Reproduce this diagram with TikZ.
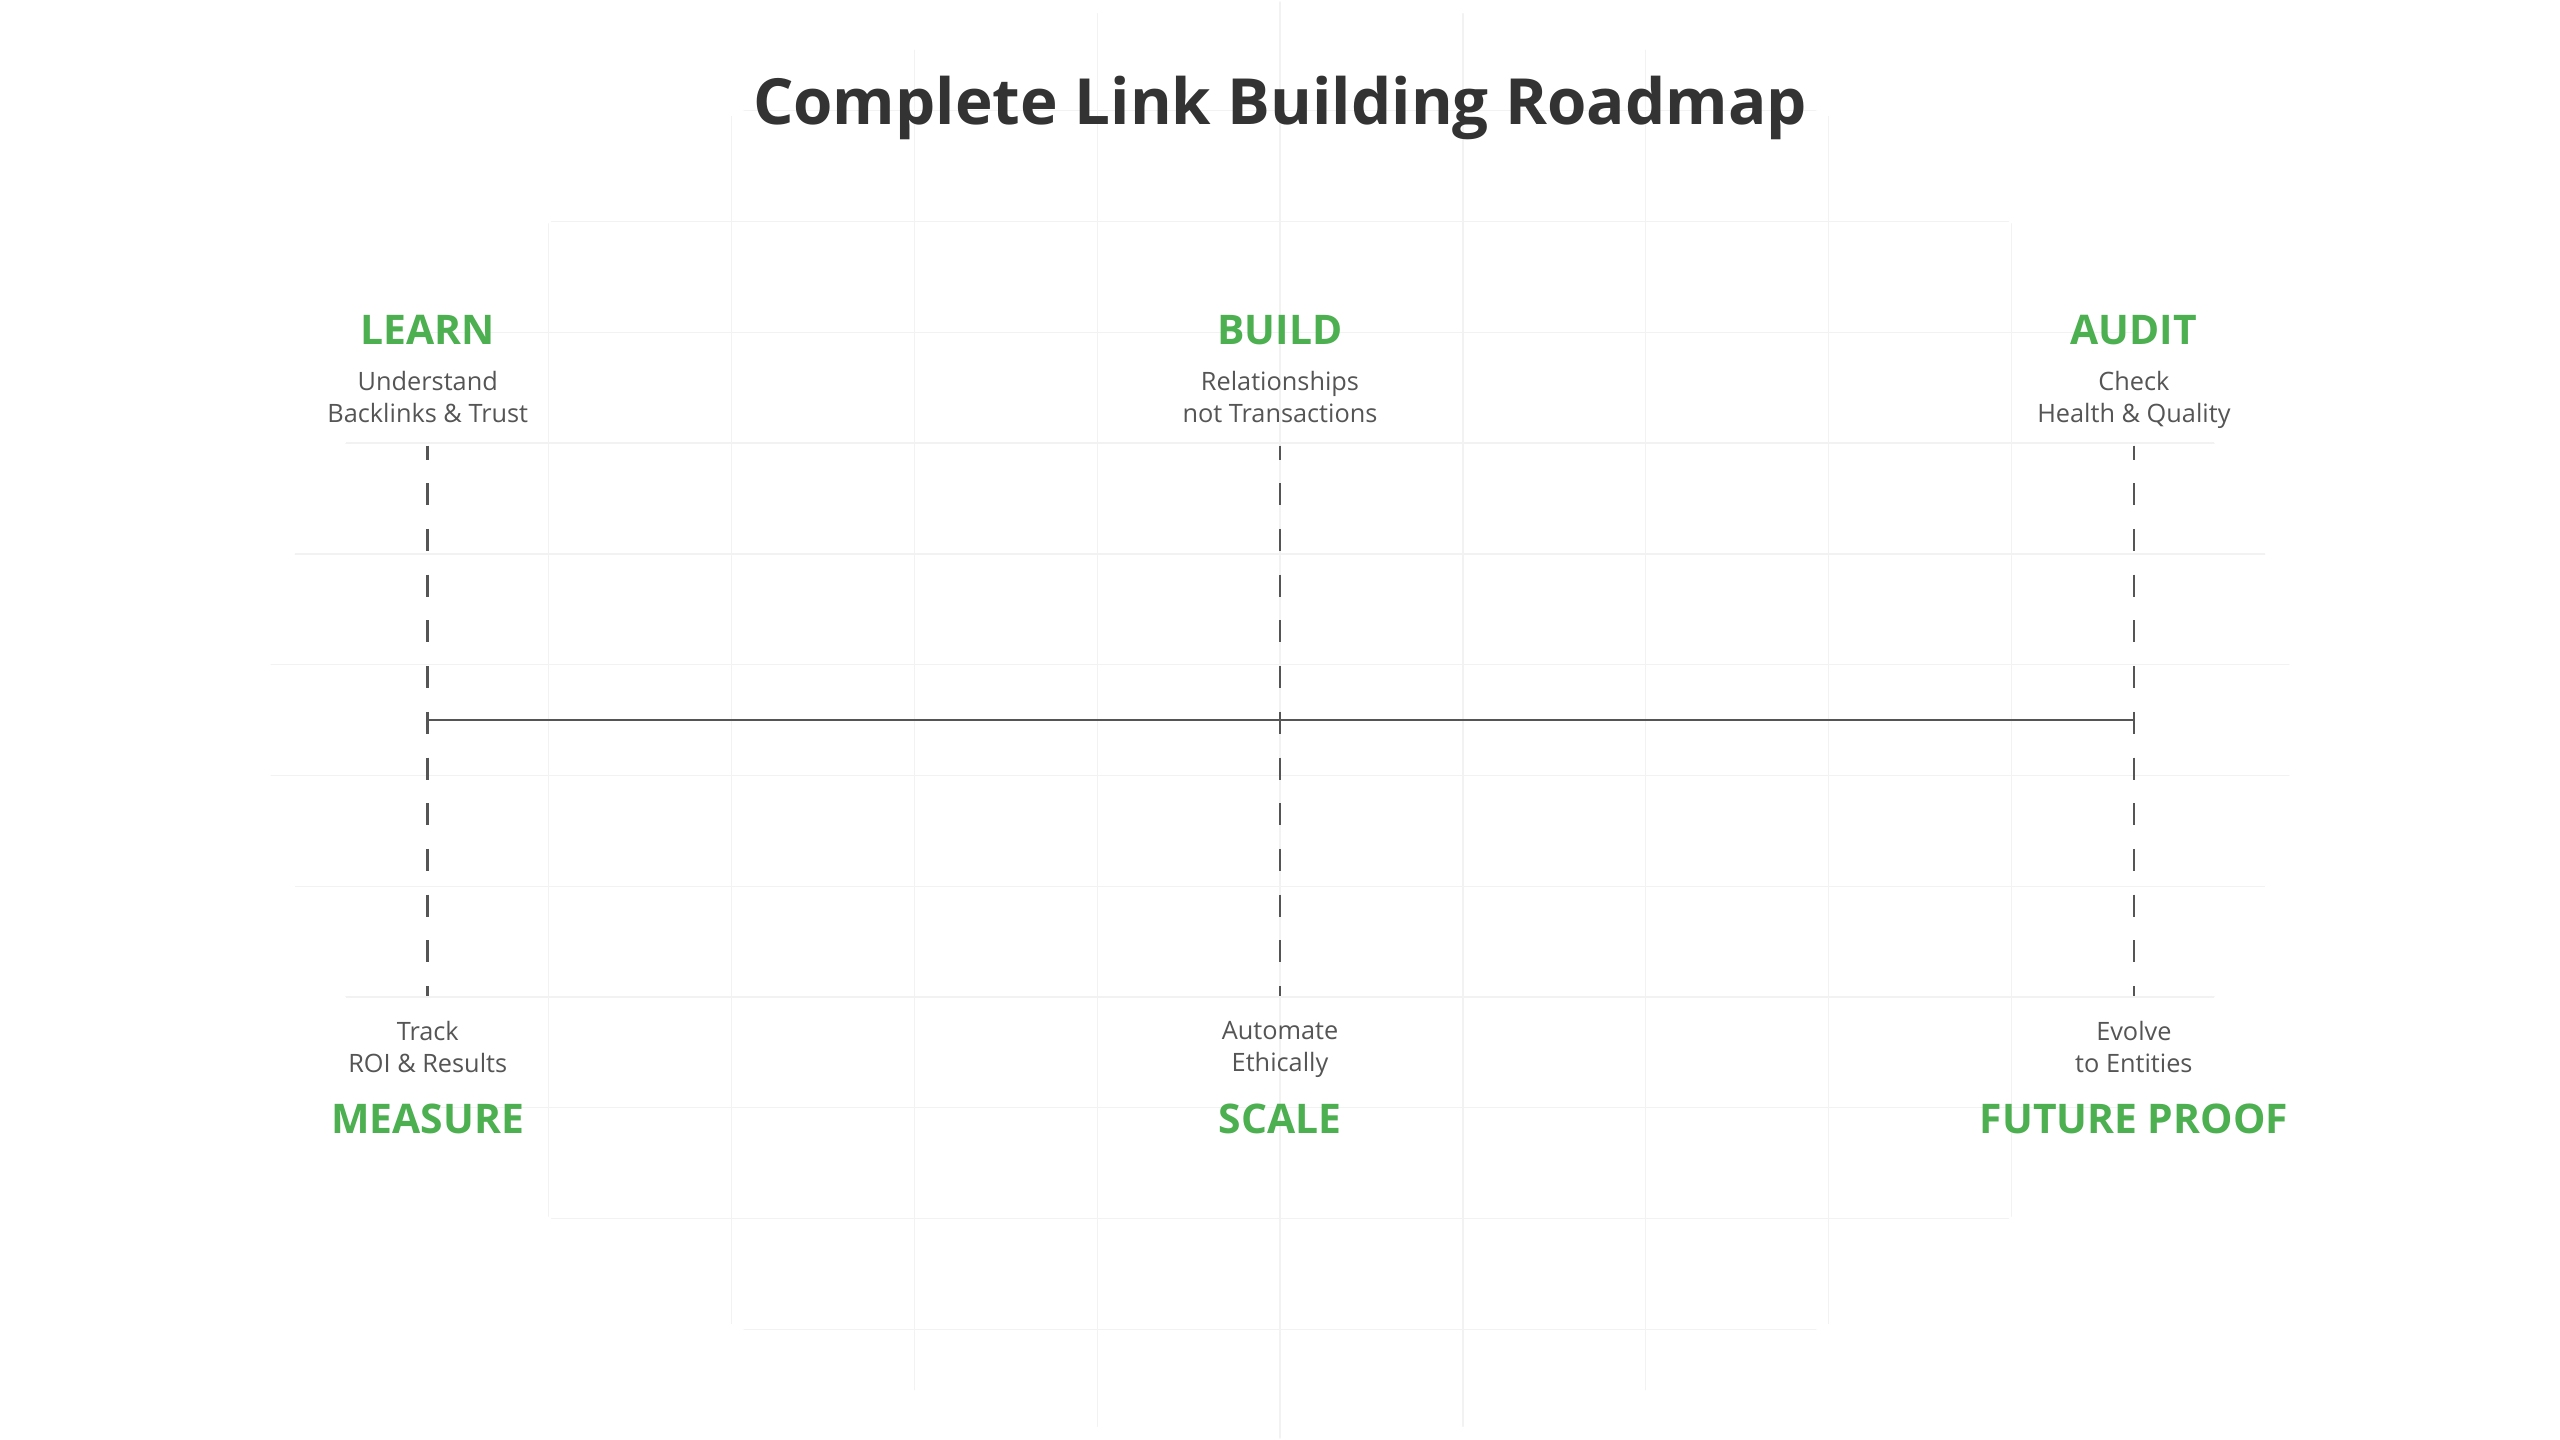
\documentclass[tikz,border=0pt]{standalone}
\usepackage{fontspec}
\setmainfont{Open Sans}
\definecolor{ink}{HTML}{333333}
\definecolor{sub}{HTML}{555555}
\definecolor{grn}{HTML}{4CAF50}
\definecolor{gridc}{HTML}{F2F2F2}
\begin{document}
\begin{tikzpicture}[x=1pt,y=-1pt,
  head/.style={text=grn,font=\fontsize{25}{28}\selectfont\bfseries,anchor=base},
  desc/.style={text=sub,font=\fontsize{15.5}{19.5}\selectfont,align=center,anchor=north},
  vdash/.style={draw=sub,line width=1.6pt,dash pattern=on 13.5pt off 14.5pt,dash phase=5pt}]
\useasboundingbox (0,0) rectangle (1568,882);
\fill[white] (0,0) rectangle (1568,882);
\begin{scope}
\clip (784,441) ellipse (620 and 440);
\foreach \x in {336,448,...,1232} \draw[gridc,line width=0.8pt] (\x,0) -- (\x,882);
\foreach \i in {1,...,12} \draw[gridc,line width=0.8pt] (0,{\i*67.85}) -- (1568,{\i*67.85});
\end{scope}
\node[text=ink,font=\fontsize{39}{44}\selectfont\bfseries] (title) at (784,66) {Complete Link Building Roadmap};
\foreach \n/\x/\h/\d in {l/262/LEARN/{Understand\\Backlinks \& Trust},b/784/BUILD/{Relationships\\not Transactions},a/1307/AUDIT/{Check\\Health \& Quality}}{
  \node[head] (h\n) at (\x,211) {\h};
  \node[desc] (d\n) at (\x,224) {\d};
  \coordinate (t\n) at (\x,273);
  \coordinate (m\n) at (\x,441);
}
\foreach \n/\x/\h/\d in {m/262/MEASURE/{Track\\ROI \& Results},s/784/SCALE/{Automate\\Ethically},f/1307/FUTURE PROOF/{Evolve\\to Entities}}{
  \node[head] (h\n) at (\x,694) {\h};
  \node[desc] (d\n) at (\x,622) {\d};
  \coordinate (e\n) at (\x,610);
}
\draw[vdash] (tl) -- (em);
\draw[vdash] (tb) -- (es);
\draw[vdash] (ta) -- (ef);
\draw[sub,line width=1.4pt] (ml) -- (ma);
\foreach \c in {ml,mb,ma} \draw[sub,line width=1.4pt] ([yshift=-5pt]\c) -- ([yshift=5pt]\c);
\end{tikzpicture}
\end{document}
